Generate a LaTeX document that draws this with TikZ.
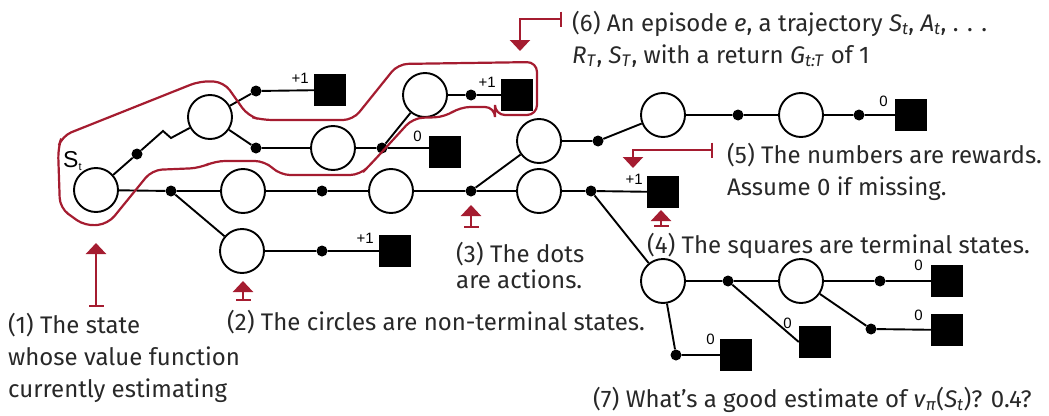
\documentclass[tikz,border=0pt]{standalone}
\usepackage{fontspec}
\setmainfont{Fira Sans}
\newfontfamily\labelfont{Liberation Sans}
\usetikzlibrary{arrows.meta,calc}
\definecolor{annred}{RGB}{165,28,48}
\definecolor{txt}{RGB}{40,40,40}
\begin{document}
\begin{tikzpicture}[x=1pt,y=-1pt,
 state/.style={circle,draw,line width=1.9pt,minimum size=44pt,inner sep=0pt},
 act/.style={circle,fill,inner sep=0pt,minimum size=11pt},
 term/.style={rectangle,fill,inner sep=0pt,minimum size=32pt},
 edge/.style={line width=1.9pt},
 rew/.style={font=\labelfont\fontsize{15}{15}\selectfont,inner sep=0pt,anchor=north east},
 note/.style={font=\fontsize{24}{32}\selectfont,text=txt,inner sep=0pt,anchor=base west,align=left},
 ann/.style={draw=annred,line width=2.2pt,{Bar[width=15pt,line width=2.2pt]}-{Triangle[width=20pt,length=11pt]}},
 episode/.style={draw=annred,line width=2.2pt,rounded corners=10pt},
]
\useasboundingbox (0,0) rectangle (1049,415);
% states
\node[state] (s0) at (96,190) {};
\node[state] (c1) at (210,117) {};
\node[state] (c2) at (243,191) {};
\node[state] (c3) at (333,148) {};
\node[state] (c4) at (425,95) {};
\node[state] (c5) at (391,191) {};
\node[state] (c6) at (539,141) {};
\node[state] (c7) at (539,191) {};
\node[state] (c8) at (663,115) {};
\node[state] (c9) at (801,115) {};
\node[state] (c10) at (242,251) {};
\node[state] (c11) at (663,281) {};
\node[state] (c12) at (801,281) {};
% actions
\node[act] (d1) at (137,154) {};
\node[act] (d2) at (256,91) {};
\node[act] (d3) at (256,148) {};
\node[act] (d4) at (382,148) {};
\node[act] (d5) at (471,95) {};
\node[act] (d6) at (171,191) {};
\node[act] (d7) at (322,191) {};
\node[act] (d8) at (471,191) {};
\node[act] (d9) at (591,191) {};
\node[act] (d10) at (598,141) {};
\node[act] (d11) at (738,115) {};
\node[act] (d12) at (859,115) {};
\node[act] (d13) at (322,251) {};
\node[act] (d14) at (728,281) {};
\node[act] (d15) at (676,355) {};
\node[act] (d16) at (880,281) {};
\node[act] (d17) at (871,329) {};
% terminals
\node[term] (t1) at (330,90) {};
\node[term] (t2) at (517,95) {};
\node[term] (t3) at (445,152) {};
\node[term] (t4) at (911,115) {};
\node[term] (t5) at (663,192) {};
\node[term] (t6) at (395,251) {};
\node[term] (t7) at (815,342) {};
\node[term] (t8) at (736,355) {};
\node[term] (t9) at (947,281) {};
\node[term] (t10) at (947,330) {};
% rewards
\node[rew] at ($(t1.north west)+(-5,-1)$) {+1};
\node[rew] at ($(t2.north west)+(-5,-2)$) {+1};
\node[rew] at ($(t3.north west)+(-7,-5)$) {0};
\node[rew] at ($(t4.north west)+(-7,-3)$) {0};
\node[rew] at ($(t5.north west)+(-4,-2)$) {+1};
\node[rew] at ($(t6.north west)+(-5,-2)$) {+1};
\node[rew] at ($(t7.north west)+(-7,-8)$) {0};
\node[rew] at ($(t8.north west)+(-5,-5)$) {0};
\node[rew] at ($(t9.north west)+(-8,-5)$) {0};
\node[rew] at ($(t10.north west)+(-8,-4)$) {0};
% edges
\draw[edge] (s0) -- (d1) -- (163,131) -- (171,138) -- (c1);
\draw[edge] (c1) -- (d2) -- (t1);
\draw[edge] (c1) -- (d3) -- (c3) -- (d4) -- (t3.west |- d4);
\draw[edge] (d4) -- (c4) -- (d5) -- (t2);
\draw[edge] (s0) -- (d6) -- (c2) -- (d7) -- (c5) -- (d8) -- (c7) -- (d9) -- (t5);
\draw[edge] (d6) -- (c10) -- (d13) -- (t6);
\draw[edge] (d8) -- (c6) -- (d10) -- (c8) -- (d11) -- (c9) -- (d12) -- (t4);
\draw[edge] (d9) -- (c11) -- (d14) -- (c12) -- (d16) -- (t9);
\draw[edge] (d14) -- (t7.west);
\draw[edge] (c11) -- (d15) -- (t8);
\draw[edge] (c12) -- (d17) -- (t10);
% episode outline
\draw[episode] (58,148) -- (62,136) -- (200,81) -- (224,82) -- (248,116) -- (262,120) -- (353,120)
  -- (398,64) -- (537,62) -- (537,115) -- (495,115) -- (495,107) -- (460,107) -- (445,117)
  -- (413,118) -- (370,165) -- (360,175) -- (280,175) -- (265,161) -- (215,161) -- (200,168)
  -- (152,170) -- (108,224) -- (85,226) -- (60,208) -- cycle;
% S_t label
\node[font=\labelfont\fontsize{23}{23}\selectfont,inner sep=0pt,anchor=base west] (st) at (63,167) {S\raisebox{-3pt}{\fontsize{11}{11}\selectfont t}};
% annotation anchors
\coordinate (a1s) at (96,307); \coordinate (a1e) at (96,243);
\coordinate (a2s) at (243,301); \coordinate (a2e) at (243,281);
\coordinate (a3s) at (471,228); \coordinate (a3e) at (471,205);
\coordinate (a4s) at (661,227); \coordinate (a4e) at (661,210);
\coordinate (a5s) at (713,150); \coordinate (a5e) at (633,168);
\coordinate (a6s) at (562,19); \coordinate (a6e) at (520,51);
\draw[ann] (a1s) -- (a1e);
\draw[ann] (a2s) -- (a2e);
\draw[ann] (a3s) -- (a3e);
\draw[ann] (a4s) -- (a4e);
\draw[ann] (a5s) -| (a5e);
\draw[ann] (a6s) -| (a6e);
% notes (base anchor = last line baseline)
\node[note] (n1) at (8,397) {(1) The state\\whose value function\\currently estimating};
\node[note] (n2) at (227,330) {(2) The circles are non-terminal states.};
\node[note,font=\fontsize{24}{26}\selectfont] (n3) at (456,288) {(3) The dots\\are actions.};
\node[note] (n4) at (647,253) {(4) The squares are terminal states.};
\node[note] (n5) at (727,195) {(5) The numbers are rewards.\\Assume 0 if missing.};
\node[note] (n6) at (572,63) {(6) An episode \textit{e}, a trajectory \textit{S}\textsubscript{\textit{t}}, \textit{A}\textsubscript{\textit{t}}, . . .\\\textit{R}\textsubscript{\textit{T}}, \textit{S}\textsubscript{\textit{T}}, with a return \textit{G}\textsubscript{\textit{t:T}} of 1};
\node[note] (n7) at (593,407) {(7) What’s a good estimate of \textit{v}\textsubscript{\textit{π}}(\textit{S}\textsubscript{\textit{t}})? 0.4?};
\end{tikzpicture}
\end{document}
